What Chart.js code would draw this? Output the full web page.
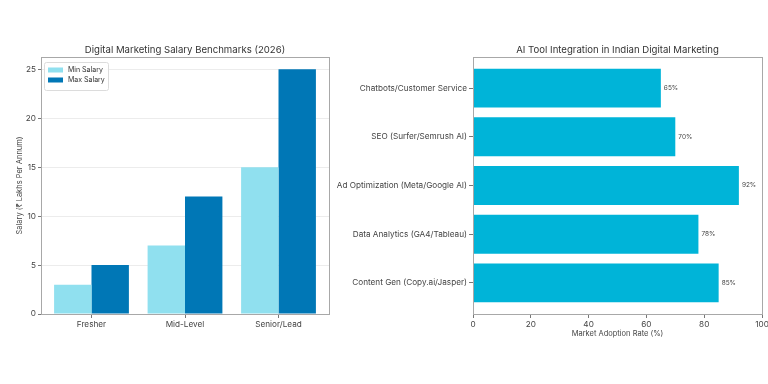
<!DOCTYPE html>
<html>
<head>
<meta charset="utf-8">
<script src="https://cdn.jsdelivr.net/npm/chart.js@4.4.1/dist/chart.umd.min.js"></script>
<style>
  html, body { margin: 0; padding: 0; background: #fff; overflow: hidden; }
  #wrap { position: relative; width: 768px; height: 384px; }
  #salaryChart { position: absolute; left: 0; top: 0; }
  #aiChart { position: absolute; left: 320px; top: 0; }
</style>
</head>
<body>
<div id="wrap">
  <canvas id="salaryChart" width="340" height="384"></canvas>
  <canvas id="aiChart" width="456" height="384"></canvas>
</div>
<script>
// left: salary benchmarks (lakhs per annum)
const levels = ['Fresher', 'Mid-Level', 'Senior/Lead'];
const minSalary = [3, 7, 15];
const maxSalary = [5, 12, 25];
const salaryTicks = [0, 5, 10, 15, 20, 25];

// right: AI tool adoption, bottom to top
const tools = [
  'Content Gen (Copy.ai/Jasper)',
  'Data Analytics (GA4/Tableau)',
  'Ad Optimization (Meta/Google AI)',
  'SEO (Surfer/Semrush AI)',
  'Chatbots/Customer Service'
];
const adoption = [85, 78, 92, 70, 65];
const adoptionTicks = [0, 20, 40, 60, 80, 100];

const FONT = 'Inter, "Noto Sans", sans-serif';
Chart.defaults.font.family = FONT;
Chart.defaults.color = '#444';
Chart.defaults.animation = false;

// matplotlib style box around the axes
const frame = {
  id: 'frame',
  afterDraw(chart) {
    const a = chart.chartArea, ctx = chart.ctx;
    ctx.save();
    ctx.strokeStyle = '#a8a8a8';
    ctx.lineWidth = 1;
    ctx.strokeRect(Math.round(a.left) + 0.5, Math.round(a.top) + 0.5,
      Math.round(a.right - a.left), Math.round(a.bottom - a.top));
    ctx.restore();
  }
};

// axes title centred over the plot area, not the canvas
const axTitle = {
  id: 'axTitle',
  afterDraw(chart, args, opts) {
    const a = chart.chartArea, ctx = chart.ctx;
    ctx.save();
    ctx.font = '9.6px ' + FONT;
    ctx.fillStyle = '#333';
    ctx.textAlign = 'center';
    ctx.textBaseline = 'alphabetic';
    ctx.fillText(opts.text, (a.left + a.right) / 2, a.top - 4);
    ctx.restore();
  }
};

const boxLegend = {
  id: 'boxLegend',
  afterDraw(chart) {
    const a = chart.chartArea, ctx = chart.ctx;
    const x = a.left + 3, y = a.top + 5;
    ctx.save();
    ctx.fillStyle = 'rgba(255,255,255,0.85)';
    ctx.strokeStyle = '#dcdcdc';
    ctx.lineWidth = 1;
    ctx.beginPath();
    ctx.roundRect(x + 0.5, y + 0.5, 64, 28, 2);
    ctx.fill();
    ctx.stroke();
    ctx.font = '7px ' + FONT;
    ctx.textBaseline = 'middle';
    chart.data.datasets.forEach((ds, i) => {
      const ry = y + 8 + i * 10;
      ctx.fillStyle = ds.backgroundColor;
      ctx.fillRect(x + 4, ry - 2.5, 15, 5);
      ctx.fillStyle = '#333';
      ctx.fillText(ds.label, x + 24, ry);
    });
    ctx.restore();
  }
};

const valueLabels = {
  id: 'valueLabels',
  afterDatasetsDraw(chart) {
    const ctx = chart.ctx;
    const meta = chart.getDatasetMeta(0);
    ctx.save();
    ctx.font = '6.5px ' + FONT;
    ctx.fillStyle = '#444';
    ctx.textBaseline = 'middle';
    meta.data.forEach((bar, i) => {
      ctx.fillText(adoption[i] + '%', bar.x + 3, bar.y);
    });
    ctx.restore();
  }
};

new Chart(document.getElementById('salaryChart'), {
  type: 'bar',
  data: {
    datasets: [
      {
        label: 'Min Salary',
        data: minSalary.map((v, i) => ({ x: i, y: v })),
        backgroundColor: '#90E0EF'
      },
      {
        label: 'Max Salary',
        data: maxSalary.map((v, i) => ({ x: i, y: v })),
        backgroundColor: '#0077B6'
      }
    ]
  },
  options: {
    responsive: false,
    layout: { padding: { left: 0, right: 11, top: 57, bottom: 0 } },
    categoryPercentage: 0.8,
    barPercentage: 1,
    scales: {
      x: {
        type: 'linear',
        min: -0.54,
        max: 2.54,
        offset: false,
        afterBuildTicks: s => { s.ticks = levels.map((_, i) => ({ value: i })); },
        afterFit: s => { s.height = 70; },
        ticks: { callback: v => levels[v], font: { size: 8.2 }, padding: 2, maxRotation: 0 },
        grid: { offset: false, drawOnChartArea: false, tickLength: 4, tickColor: '#777' },
        border: { display: false }
      },
      y: {
        min: 0,
        max: 26.25,
        afterBuildTicks: s => { s.ticks = salaryTicks.map(v => ({ value: v })); },
        afterFit: s => { s.width = 41; },
        ticks: { font: { size: 8.2 }, padding: 2 },
        grid: { color: '#ececec', tickLength: 3, tickColor: '#777' },
        border: { display: false },
        title: {
          display: true,
          text: 'Salary (₹ Lakhs Per Annum)',
          font: { size: 7.5 },
          color: '#444',
          padding: { top: 15, bottom: 0 }
        }
      }
    },
    plugins: {
      legend: { display: false },
      tooltip: { enabled: false },
      axTitle: { text: 'Digital Marketing Salary Benchmarks (2026)' }
    }
  },
  plugins: [frame, axTitle, boxLegend]
});

new Chart(document.getElementById('aiChart'), {
  type: 'bar',
  data: {
    datasets: [{
      label: 'Market Adoption Rate (%)',
      data: adoption.map((v, i) => ({ x: v, y: i })),
      backgroundColor: '#00B4D8'
    }]
  },
  options: {
    indexAxis: 'y',
    responsive: false,
    layout: { padding: { left: 0, right: 14, top: 57, bottom: 42 } },
    categoryPercentage: 0.8,
    barPercentage: 1,
    scales: {
      x: {
        type: 'linear',
        min: 0,
        max: 100,
        afterBuildTicks: s => { s.ticks = adoptionTicks.map(v => ({ value: v })); },
        afterFit: s => { s.height = 28; },
        ticks: { font: { size: 8.2 }, padding: 2, maxRotation: 0 },
        grid: { drawOnChartArea: false, tickLength: 4, tickColor: '#777' },
        border: { display: false },
        title: {
          display: true,
          text: 'Market Adoption Rate (%)',
          font: { size: 7.5 },
          color: '#444',
          padding: { top: 2, bottom: 4 }
        }
      },
      y: {
        type: 'linear',
        min: -0.64,
        max: 4.64,
        offset: false,
        afterBuildTicks: s => { s.ticks = tools.map((_, i) => ({ value: i })); },
        afterFit: s => { s.width = 153; },
        ticks: { callback: v => tools[v], font: { size: 8.2 }, padding: 2 },
        grid: { offset: false, drawOnChartArea: false, tickLength: 4, tickColor: '#777' },
        border: { display: false }
      }
    },
    plugins: {
      legend: { display: false },
      tooltip: { enabled: false },
      axTitle: { text: 'AI Tool Integration in Indian Digital Marketing' }
    }
  },
  plugins: [frame, axTitle, valueLabels]
});
</script>
</body>
</html>
